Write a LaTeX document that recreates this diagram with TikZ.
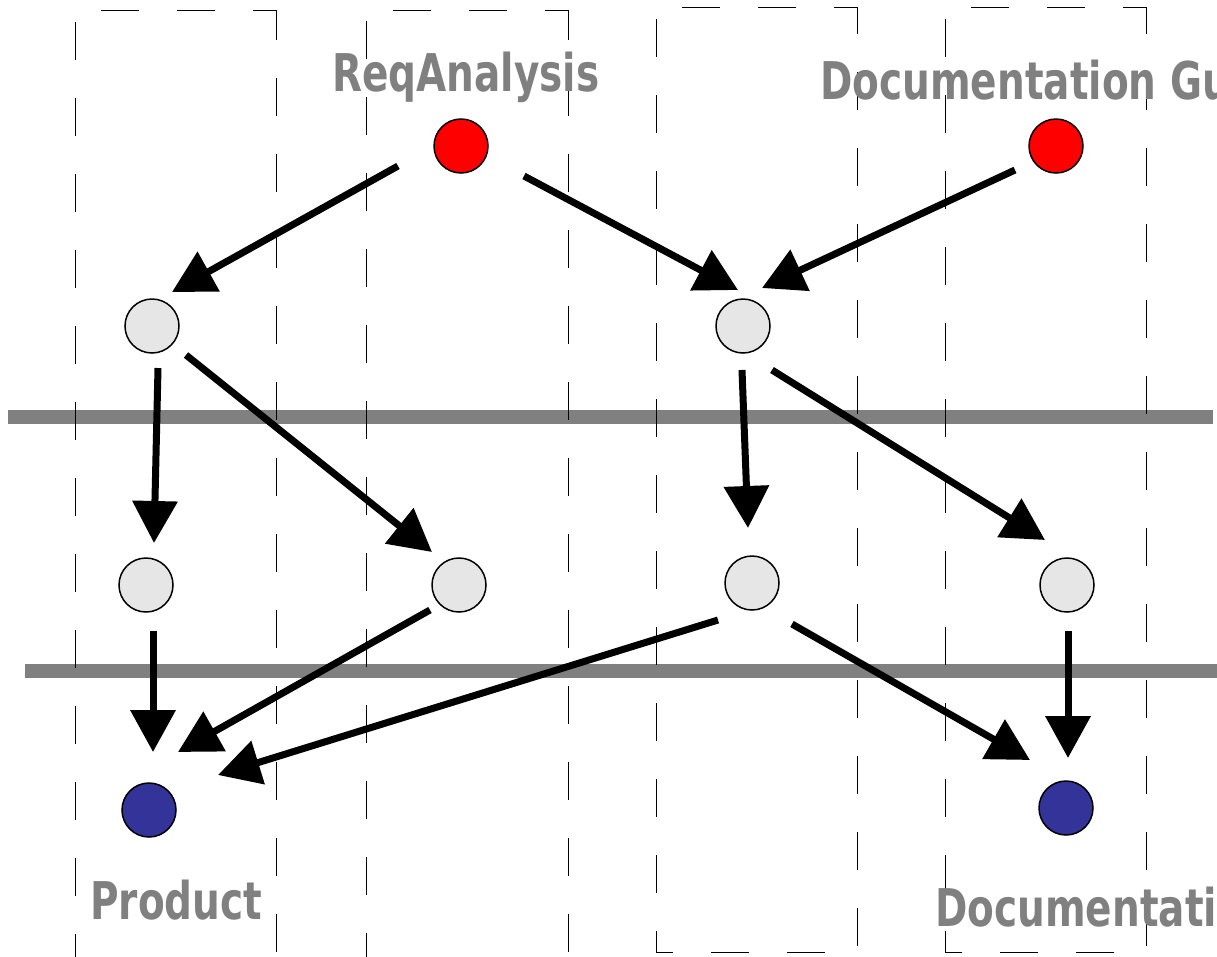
\documentclass[tikz,border=0pt]{standalone}
\usepackage{fontspec}
\setmainfont{DejaVu Sans}
\usetikzlibrary{arrows.meta}
\definecolor{nodegrey}{RGB}{230,230,230}
\definecolor{nodeblue}{RGB}{51,51,153}
\definecolor{bargrey}{RGB}{128,128,128}
\begin{document}
\begin{tikzpicture}[x=1pt,y=-1pt,
  dot/.style={circle,draw=black,line width=1.5pt,minimum size=54pt,inner sep=0pt},
  rednode/.style={dot,fill=red},
  greynode/.style={dot,fill=nodegrey},
  bluenode/.style={dot,fill=nodeblue},
  arr/.style={line width=7pt,-{Triangle[length=42pt,width=44pt]}},
  lane/.style={line width=1pt,dash pattern=on 38pt off 38pt},
  bar/.style={line width=14pt,draw=bargrey},
  lbl/.style={text=bargrey,font=\fontsize{52}{56}\selectfont\bfseries,inner sep=0pt}]
\useasboundingbox (0,0) rectangle (1217,956);
\clip (0,0) rectangle (1217,956);
% bars
\draw[bar] (8,417) -- (1213,417);
\draw[bar] (25,671) -- (1217,671);
% lanes
\draw[lane,dash phase=15pt] (276,10) -- (75,10) -- (75,1000);
\draw[lane,dash phase=8pt] (276,10) -- (276,1000);
\draw[lane,dash phase=15pt] (568,10) -- (366,10) -- (366,1000);
\draw[lane,dash phase=8pt] (568,10) -- (568,1000);
\draw[lane,dash phase=15pt] (857,7) -- (656,7) -- (656,952) -- (857,952) -- cycle;
\draw[lane,dash phase=15pt] (1146,7) -- (945,7) -- (945,952) -- (1146,952) -- cycle;
% labels
\node[lbl,anchor=base west] (lreq) at (332,91) {\scalebox{0.75}[1]{ReqAnalysis}};
\node[lbl,anchor=base west] (ldocg) at (820,99) {\scalebox{0.75}[1]{Documentation Gu}};
\node[lbl,anchor=base west] (lprod) at (90,919) {\scalebox{0.75}[1]{Product}};
\node[lbl,anchor=base west] (ldoc) at (935,926) {\scalebox{0.75}[1]{Documentati}};
% nodes
\node[rednode] (r1) at (461,146) {};
\node[rednode] (r2) at (1056,146) {};
\node[greynode] (g1) at (152,326) {};
\node[greynode] (g2) at (743,326) {};
\node[greynode] (g3) at (146,585) {};
\node[greynode] (g4) at (459,585) {};
\node[greynode] (g5) at (752,583) {};
\node[greynode] (g6) at (1067,585) {};
\node[bluenode] (b1) at (149,810) {};
\node[bluenode] (b2) at (1066,808) {};
% arrows
\draw[arr] ([shift={(-63,20)}]r1.center) -- ([shift={(20,-34)}]g1.center);
\draw[arr] ([shift={(63,30)}]r1.center) -- ([shift={(-5,-36)}]g2.center);
\draw[arr] ([shift={(-41,24)}]r2.center) -- ([shift={(19,-38)}]g2.center);
\draw[arr] ([shift={(6,42)}]g1.center) -- ([shift={(8,-42)}]g3.center);
\draw[arr] ([shift={(34,29)}]g1.center) -- ([shift={(-27,-33)}]g4.center);
\draw[arr] ([shift={(-1,44)}]g2.center) -- ([shift={(-4,-55)}]g5.center);
\draw[arr] ([shift={(29,44)}]g2.center) -- ([shift={(-22,-45)}]g6.center);
\draw[arr] ([shift={(7,46)}]g3.center) -- ([shift={(4,-58)}]b1.center);
\draw[arr] ([shift={(-29,25)}]g4.center) -- ([shift={(29,-58)}]b1.center);
\draw[arr] ([shift={(-34,37)}]g5.center) -- ([shift={(69,-35)}]b1.center);
\draw[arr] ([shift={(40,41)}]g5.center) -- ([shift={(-36,-48)}]b2.center);
\draw[arr] ([shift={(1,46)}]g6.center) -- ([shift={(2,-50)}]b2.center);
\end{tikzpicture}
\end{document}
